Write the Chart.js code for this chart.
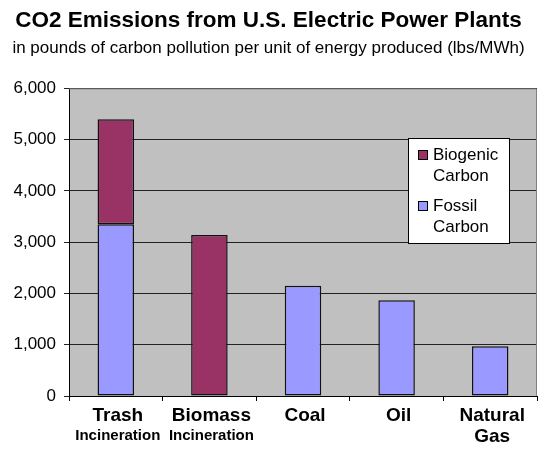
<!DOCTYPE html>
<html>
<head>
<meta charset="utf-8">
<script src="https://cdn.jsdelivr.net/npm/chart.js@4.4.1/dist/chart.umd.min.js"></script>
<style>
  html, body { margin: 0; padding: 0; background: #fff; }
  #wrap { width: 538px; height: 460px; }
</style>
</head>
<body>
<div id="wrap"><canvas id="co2Chart" width="538" height="460"></canvas></div>
<script>
// 数据
const categories = ['Trash', 'Biomass', 'Coal', 'Oil', 'Natural Gas'];
const qualifiers = ['Incineration', 'Incineration', '', '', ''];
const fossilCarbon = [3350, null, 2150, 1870, 970];
const biogenicCarbon = [2050, 3140, null, null, null];
const yTicks = [0, 1000, 2000, 3000, 4000, 5000, 6000];

const FONT = "'Liberation Sans', Arial, sans-serif";

// 绘图区背景和边框
const plotAreaPlugin = {
    id: 'plotArea',
    beforeDraw(chart) {
        const {ctx, chartArea: a} = chart;
        ctx.save();
        ctx.fillStyle = '#C0C0C0';
        ctx.fillRect(a.left, a.top, a.right - a.left, a.bottom - a.top);
        ctx.restore();
    },
    beforeDatasetsDraw(chart) {
        const {ctx, chartArea: a} = chart;
        ctx.save();
        ctx.strokeStyle = '#808080';
        ctx.lineWidth = 1;
        ctx.beginPath();
        ctx.moveTo(a.left, a.top + 0.5);
        ctx.lineTo(a.right - 0.5, a.top + 0.5);
        ctx.lineTo(a.right - 0.5, a.bottom);
        ctx.stroke();
        ctx.restore();
    }
};

// X轴分类标签（两种字号）
const categoryLabelPlugin = {
    id: 'categoryLabels',
    afterDraw(chart) {
        const {ctx, chartArea: a} = chart;
        const xScale = chart.scales.x;
        ctx.save();
        ctx.fillStyle = '#000';
        ctx.textAlign = 'center';
        ctx.textBaseline = 'middle';
        categories.forEach((name, i) => {
            const x = xScale.getPixelForValue(i) + 2;
            let y = a.bottom + 20;
            ctx.font = 'bold 19px ' + FONT;
            name.split(' ').forEach(word => {
                ctx.fillText(word, x, y);
                y += 21;
            });
            if (qualifiers[i]) {
                ctx.font = 'bold 15px ' + FONT;
                ctx.fillText(qualifiers[i], x, a.bottom + 40);
            }
        });
        ctx.restore();
    }
};

// 图例框
const legendBoxPlugin = {
    id: 'legendBox',
    afterDatasetsDraw(chart) {
        const {ctx} = chart;
        const bx = 408, by = 138, bw = 102, bh = 106;
        ctx.save();
        ctx.fillStyle = '#fff';
        ctx.fillRect(bx, by, bw, bh);
        ctx.strokeStyle = '#000';
        ctx.lineWidth = 1;
        ctx.strokeRect(bx + 0.5, by + 0.5, bw - 1, bh - 1);
        ctx.font = '17px ' + FONT;
        ctx.textBaseline = 'middle';
        ctx.textAlign = 'left';
        const items = chart.data.datasets.slice().reverse();
        items.forEach((ds, i) => {
            const top = by + 16 + i * 51;
            ctx.fillStyle = ds.backgroundColor;
            ctx.fillRect(418, top - 4, 10, 10);
            ctx.strokeStyle = '#000';
            ctx.strokeRect(418.5, top - 3.5, 9, 9);
            ctx.fillStyle = '#000';
            ds.label.split(' ').forEach((line, j) => {
                ctx.fillText(line, 433, top + 1 + j * 21);
            });
        });
        ctx.restore();
    }
};

function initChart() {
    const ctx = document.getElementById('co2Chart');
    new Chart(ctx, {
        type: 'bar',
        data: {
            labels: categories,
            datasets: [{
                label: 'Fossil Carbon',
                data: fossilCarbon,
                backgroundColor: '#9999FF',
                borderColor: '#111',
                borderWidth: 1.5,
                borderSkipped: false,
                barPercentage: 0.39,
                categoryPercentage: 1
            }, {
                label: 'Biogenic Carbon',
                data: biogenicCarbon,
                backgroundColor: '#993366',
                borderColor: '#111',
                borderWidth: 1.5,
                borderSkipped: false,
                barPercentage: 0.39,
                categoryPercentage: 1
            }]
        },
        options: {
            responsive: false,
            animation: false,
            devicePixelRatio: 1,
            layout: {
                padding: { left: 0, right: 1, top: 0, bottom: 59 }
            },
            scales: {
                x: {
                    stacked: true,
                    offset: true,
                    grid: {
                        offset: true,
                        drawOnChartArea: false,
                        drawTicks: true,
                        tickLength: 5,
                        color: '#000'
                    },
                    border: { display: true, color: '#000' },
                    ticks: { display: false }
                },
                y: {
                    stacked: true,
                    min: 0,
                    max: 6000,
                    afterBuildTicks(scale) {
                        scale.ticks = yTicks.map(v => ({ value: v }));
                    },
                    afterFit(scale) {
                        scale.width = 69;
                    },
                    grid: {
                        color: '#222',
                        tickLength: 5,
                        drawTicks: true
                    },
                    border: { display: true, color: '#000' },
                    ticks: {
                        padding: 8,
                        color: '#000',
                        font: { family: FONT, size: 17 },
                        callback: v => v.toLocaleString('en-US')
                    }
                }
            },
            plugins: {
                legend: { display: false },
                tooltip: { enabled: false },
                title: {
                    display: true,
                    text: 'CO2 Emissions from U.S. Electric Power Plants',
                    color: '#000',
                    font: { family: FONT, size: 22.5, weight: 'bold' },
                    padding: { top: 7, bottom: 4 }
                },
                subtitle: {
                    display: true,
                    text: 'in pounds of carbon pollution per unit of energy produced (lbs/MWh)',
                    color: '#000',
                    font: { family: FONT, size: 17 },
                    padding: { top: 0, bottom: 30 }
                }
            }
        },
        plugins: [plotAreaPlugin, categoryLabelPlugin, legendBoxPlugin]
    });
}

initChart();
</script>
</body>
</html>
